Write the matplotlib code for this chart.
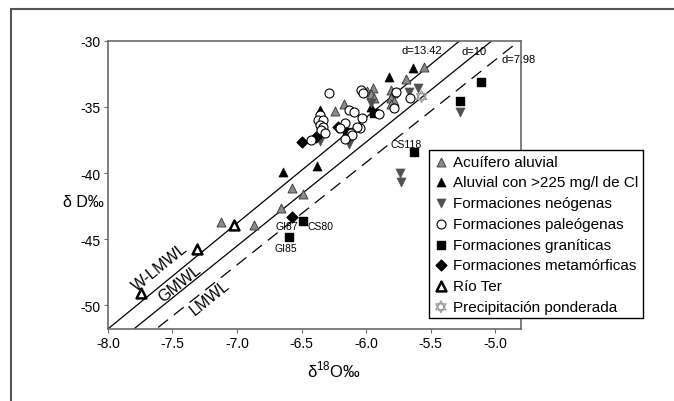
import numpy as np
import matplotlib
matplotlib.use("Agg")
import matplotlib.pyplot as plt
from matplotlib.path import Path
from matplotlib.patches import Rectangle

plt.rcParams['font.family'] = ['Liberation Sans', 'DejaVu Sans']
plt.rcParams['mathtext.fontset'] = 'custom'
plt.rcParams['mathtext.rm'] = 'Liberation Sans'
plt.rcParams['axes.unicode_minus'] = False

# ---------------- data (d18O, dD) ----------------
aluvial_x = [-5.55, -5.69, -5.81, -5.79, -5.81, -5.78, -5.81, -5.99, -5.95, -5.96, -5.94,
             -6.17, -6.24, -6.57, -6.49, -6.66, -7.12, -6.87]
aluvial_y = [-31.95, -32.9, -33.72, -33.97, -34.35, -34.56, -34.8, -33.8, -33.6, -34.05, -34.35,
             -34.8, -35.3, -41.1, -41.6, -42.66, -43.7, -43.9]

cl_x = [-5.64, -5.82, -5.96, -6.36, -6.64, -6.38]
cl_y = [-32.07, -32.7, -35.0, -35.24, -39.9, -39.5]

neog_x = [-5.67, -5.60, -5.96, -5.27, -5.74, -5.73, -6.36, -6.13]
neog_y = [-33.84, -33.6, -34.73, -35.4, -39.97, -40.68, -37.55, -37.8]

paleo_x = [-6.29, -6.04, -6.02, -5.77, -5.78, -5.66, -6.13, -6.09, -6.03, -5.90, -6.16,
           -6.20, -6.05, -6.07, -6.12, -6.11, -6.16, -6.36, -6.37, -6.33, -6.36, -6.33,
           -6.35, -6.32, -6.43]
paleo_y = [-33.97, -33.72, -33.97, -33.84, -35.1, -34.35, -35.24, -35.36, -35.87, -35.57, -36.25,
           -36.63, -36.63, -36.5, -37.0, -37.14, -37.4, -35.62, -36.0, -36.0, -36.38, -36.5,
           -36.76, -37.0, -37.52]

gran_x = [-5.94, -5.27, -5.11, -5.63, -6.49, -6.60, -6.15]
gran_y = [-35.45, -34.56, -33.09, -38.4, -43.6, -44.84, -36.88]

meta_x = [-6.50, -6.39, -6.22, -6.35, -6.57]
meta_y = [-37.65, -37.26, -36.5, -36.1, -43.34]

ter_x = [-7.74, -7.31, -7.02]
ter_y = [-49.11, -45.75, -43.92]

prec_x = [-5.57]
prec_y = [-34.22]

# reference lines: name, slope, intercept
line_names = ['W-LMWL', 'GMWL', 'LMWL']
line_slopes = [8.0, 7.86, 7.75]
line_ints = [12.2, 9.5, 7.3]
line_tags = ['d=13.42', 'd=10', 'd=7.98']

sample_names = ['CS118', 'GI87', 'CS80', 'GI85']
sample_x = [-5.69, -6.61, -6.35, -6.62]
sample_y = [-37.84, -44.02, -43.97, -45.66]

# star of David marker
ang_up = np.deg2rad([90, 210, 330, 90])
ang_dn = np.deg2rad([270, 30, 150, 270])
verts = list(zip(np.cos(ang_up), np.sin(ang_up))) + list(zip(np.cos(ang_dn), np.sin(ang_dn)))
codes = [Path.MOVETO, Path.LINETO, Path.LINETO, Path.CLOSEPOLY] * 2
hexagram = Path(verts, codes)

fig = plt.figure(figsize=(6.74, 4.02), dpi=100)
ax = fig.add_axes([0.160, 0.179, 0.613, 0.717])

xx = np.array([-8.5, -4.5])
ax.plot(xx, line_slopes[0] * xx + line_ints[0], color='black', lw=0.9, zorder=2)
ax.plot(xx, line_slopes[1] * xx + line_ints[1], color='black', lw=0.9, zorder=2)
ax.plot(xx, line_slopes[2] * xx + line_ints[2], color='black', lw=0.9, ls=(0, (10, 6)), zorder=2)

ms = 42
h1 = ax.scatter(aluvial_x, aluvial_y, marker='^', s=ms, c='#8a8a8a', edgecolors='#333333', linewidths=0.6, zorder=3)
h2 = ax.scatter(cl_x, cl_y, marker='^', s=ms, c='black', edgecolors='black', linewidths=0.5, zorder=3)
h3 = ax.scatter(neog_x, neog_y, marker='v', s=ms, c='#505050', edgecolors='#505050', linewidths=0.5, zorder=3)
h4 = ax.scatter(paleo_x, paleo_y, marker='o', s=ms, c='white', edgecolors='black', linewidths=0.8, zorder=4)
h5 = ax.scatter(gran_x, gran_y, marker='s', s=32, c='black', zorder=3)
h6 = ax.scatter(meta_x, meta_y, marker='D', s=30, c='black', zorder=3)
h7 = ax.scatter(ter_x, ter_y, marker='^', s=50, c='white', edgecolors='black', linewidths=1.8, zorder=3)
h8 = ax.scatter(prec_x, prec_y, marker=hexagram, s=70, c='none', edgecolors='#9a9a9a', linewidths=0.9, zorder=3)

# line labels
ax.text(-7.60, -47.05, line_names[0], rotation=39, ha='center', va='center', fontsize=11.5, rotation_mode='anchor')
ax.text(-7.44, -48.27, line_names[1], rotation=39, ha='center', va='center', fontsize=11.5, rotation_mode='anchor')
ax.text(-7.21, -49.4, line_names[2], rotation=39, ha='center', va='center', fontsize=11.5, rotation_mode='anchor')

ax.text(-5.57, -30.7, line_tags[0], ha='center', va='center', fontsize=8)
ax.text(-5.16, -30.75, line_tags[1], ha='center', va='center', fontsize=8)
ax.text(-4.82, -31.4, line_tags[2], ha='center', va='center', fontsize=8, clip_on=False)

for name, x, y in zip(sample_names, sample_x, sample_y):
    ax.text(x, y, name, ha='center', va='center', fontsize=7.5)

ax.set_xlim(-8.0, -4.8)
ax.set_ylim(-51.8, -30)
ax.set_xticks(np.arange(-8.0, -4.9, 0.5))
ax.set_xticklabels(['%.1f' % v for v in np.arange(-8.0, -4.9, 0.5)])
ax.set_yticks([-50, -45, -40, -35, -30])

for sp in ax.spines.values():
    sp.set_color('#6a6a6a')
    sp.set_linewidth(1.2)
ax.tick_params(direction='out', length=3, color='#6a6a6a', labelsize=10, pad=2)

ax.set_xlabel('δ$^{18}$O‰', fontsize=12)
ax.xaxis.set_label_coords(0.547, -0.104)
ax.set_ylabel('δ D‰', fontsize=11.5, rotation=0, ha='center', va='center')
ax.yaxis.set_label_coords(-0.06, 0.444)

leg = ax.legend([h1, h2, h3, h4, h5, h6, h7, h8],
                ['Acuífero aluvial', 'Aluvial con >225 mg/l de Cl', 'Formaciones neógenas',
                 'Formaciones paleógenas', 'Formaciones graníticas', 'Formaciones metamórficas',
                 'Río Ter', 'Precipitación ponderada'],
                loc='upper left', bbox_to_anchor=(0.636, 0.624), bbox_transform=fig.transFigure,
                fontsize=11, frameon=True, fancybox=False, edgecolor='black', framealpha=1,
                labelspacing=0.44, handletextpad=0.3, borderpad=0.3, handlelength=1.0,
                borderaxespad=0, scatterpoints=1)
leg.get_frame().set_linewidth(1.0)
leg.set_zorder(5)

fig.patches.append(Rectangle((0.016, -0.1), 1.1, 1.075, transform=fig.transFigure,
                             fill=False, edgecolor='#555555', lw=1.5))

fig.savefig('out.png', dpi=100)
